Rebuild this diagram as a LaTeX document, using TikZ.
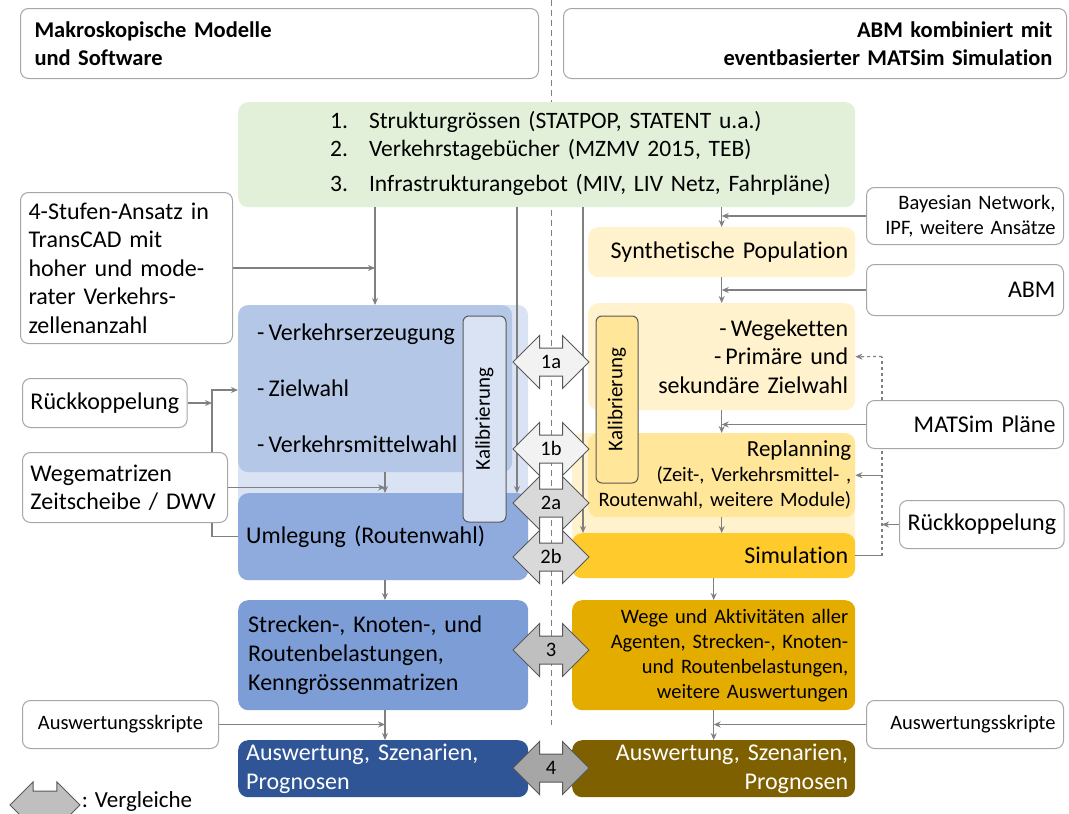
\documentclass[tikz,border=0pt]{standalone}
\usepackage{fontspec}
\setmainfont{Carlito}[Ligatures=NoCommon]
\usetikzlibrary{shapes.arrows,arrows.meta,positioning}

\definecolor{boxgray}{HTML}{A6A6A6}
\definecolor{linegray}{HTML}{808080}
\definecolor{arrowgray}{HTML}{595959}
\definecolor{greenbg}{HTML}{E2F0D9}
\definecolor{bluepale}{HTML}{DAE3F3}
\definecolor{bluelight}{HTML}{B4C7E7}
\definecolor{bluemid}{HTML}{8FAADC}
\definecolor{bluestr}{HTML}{7C9DD6}
\definecolor{bluedark}{HTML}{2F5597}
\definecolor{yelpale}{HTML}{FFF2CC}
\definecolor{yellight}{HTML}{FFE699}
\definecolor{yelsim}{HTML}{FFCA2C}
\definecolor{goldbox}{HTML}{E5AC00}
\definecolor{brownbox}{HTML}{7F6000}

\pgfdeclarelayer{back}
\pgfdeclarelayer{mid}
\pgfsetlayers{back,mid,main}

\tikzset{
  boxsize/.style 2 args={minimum width=#1pt, minimum height=#2pt},
  hdr/.style={draw=boxgray, line width=1pt, rounded corners=8pt, anchor=north west,
    inner xsep=14pt, font=\fontsize{22.5}{28}\selectfont\bfseries},
  sidebox/.style={draw=boxgray, line width=1pt, rounded corners=8pt, fill=white,
    anchor=north west, inner xsep=8pt, font=\fontsize{24}{28.5}\selectfont},
  colbox/.style={rounded corners=10pt, anchor=north west, font=\fontsize{24}{28.5}\selectfont},
  kal/.style={draw=arrowgray, line width=1pt, rounded corners=6pt, rotate=90,
    font=\fontsize{21}{21}\selectfont},
  cmp/.style={double arrow, draw=arrowgray, line width=1pt, double arrow head extend=12.5pt,
    minimum height=76pt, text height=13pt, text depth=1pt, inner xsep=2pt, inner ysep=6.5pt,
    font=\fontsize{20.5}{20}\selectfont},
  flow/.style={draw=linegray, line width=1.2pt, -{Stealth[length=7pt,width=6pt]}},
  link/.style={draw=linegray, line width=1.2pt}
}

\begin{document}
\begin{tikzpicture}[x=1pt, y=-1pt]
\useasboundingbox (0,0) rectangle (1069,814);

\begin{pgfonlayer}{back}
  \draw[linegray, line width=1pt, dash pattern=on 6pt off 4pt] (551,0) -- (551,725);
  \fill[bluepale, rounded corners=10pt] (238,305) rectangle (528,580);
  \fill[yelpale, rounded corners=10pt] (572,433) rectangle (855,578);

  \node[colbox, fill=greenbg, boxsize={617}{105}, text width=597pt, inner xsep=10pt, align=left,
    font=\fontsize{23.5}{28}\selectfont] (green) at (238,102)
    {\hspace*{82pt}\begin{tabular}{@{}l@{\hspace{21pt}}l@{}}
      1.&Strukturgrössen (STATPOP, STATENT u.a.)\\
      2.&Verkehrstagebücher (MZMV 2015, TEB)\\[7pt]
      3.&Infrastrukturangebot (MIV, LIV Netz, Fahrpläne)
    \end{tabular}};

  % linke Seite
  \node[colbox, fill=bluelight, boxsize={274}{167}, text width=236pt, inner xsep=19pt, align=left,
    font=\fontsize{24}{56}\selectfont] (vz) at (238,305)
    {-\,Verkehrserzeugung\\-\,Zielwahl\\-\,Verkehrsmittelwahl};
  \node[colbox, fill=bluemid, boxsize={290}{87}, text width=274pt, inner xsep=8pt, align=left] (uml) at (238,493)
    {Umlegung (Routenwahl)};
  \node[colbox, fill=bluestr, boxsize={290}{110}, text width=270pt, inner xsep=10pt, align=left,
    font=\fontsize{24}{29}\selectfont] (str) at (238,600)
    {Strecken-, Knoten-, und\\Routenbelastungen,\\Kenngrössenmatrizen};
  \node[colbox, fill=bluedark, text=white, boxsize={290}{57}, text width=274pt, inner xsep=8pt, align=left] (ausB) at (238,740)
    {Auswertung, Szenarien,\\Prognosen};

  % rechte Seite
  \node[colbox, fill=yelpale, boxsize={267}{50}, text width=253pt, inner xsep=7pt, align=right] (syn) at (588,227)
    {Synthetische Population};
  \node[colbox, fill=yelpale, boxsize={267}{107}, text width=253pt, inner xsep=7pt, align=right] (weg) at (588,303)
    {-\,Wegeketten\\-\,Primäre und\\sekundäre Zielwahl};
  \node[colbox, fill=yellight, boxsize={267}{84}, text width=259pt, inner xsep=4pt, align=right,
    font=\fontsize{20.5}{25}\selectfont] (rep) at (588,433)
    {{\fontsize{23}{25}\selectfont Replanning}\\(Zeit-, Verkehrsmittel- ,\\Routenwahl, weitere Module)};
  \node[colbox, fill=yelsim, boxsize={283}{45}, text width=269pt, inner xsep=7pt, align=right] (sim) at (572,533)
    {Simulation};
  \node[colbox, fill=goldbox, boxsize={283}{110}, text width=269pt, inner xsep=7pt, align=right,
    font=\fontsize{20.5}{25}\selectfont] (gold) at (572,600)
    {Wege und Aktivitäten aller\\Agenten, Strecken-, Knoten-\\und Routenbelastungen,\\weitere Auswertungen};
  \node[colbox, fill=brownbox, text=white, boxsize={283}{57}, text width=269pt, inner xsep=7pt, align=right] (brown) at (572,740)
    {Auswertung, Szenarien,\\Prognosen};
\end{pgfonlayer}

% Kopfzeilen
\node[hdr, boxsize={518}{70}, text width=490pt, align=left] (hdrL) at (20,8)
  {Makroskopische Modelle\\und Software};
\node[hdr, boxsize={503}{70}, text width=475pt, align=right] (hdrR) at (563,8)
  {ABM kombiniert mit\\eventbasierter MATSim Simulation};

% Eingaben links
\node[sidebox, boxsize={212}{151}, text width=196pt, align=left] (stufen) at (20,192)
  {4-Stufen-Ansatz in\\TransCAD mit\\hoher und mode-\\rater Verkehrs-\\zellenanzahl};
\node[sidebox, boxsize={164}{49}] (rueL) at (22,378) {Rückkoppelung};
\node[sidebox, boxsize={205}{70}, text width=189pt, align=left] (wm) at (22,452)
  {Wegematrizen\\Zeitscheibe / DWV};
\node[sidebox, boxsize={196}{48}, font=\fontsize{20.5}{24}\selectfont] (ausL) at (22,700) {Auswertungsskripte};

% Eingaben rechts
\node[sidebox, boxsize={197}{57}, text width=181pt, align=right, font=\fontsize{20.5}{25}\selectfont] (bay) at (866,187)
  {Bayesian Network,\\IPF, weitere Ansätze};
\node[sidebox, boxsize={197}{51}, text width=181pt, align=right] (abm) at (866,264) {ABM};
\node[sidebox, boxsize={197}{48}, text width=181pt, align=right] (mat) at (866,400) {MATSim Pläne};
\node[sidebox, boxsize={164}{48}] (rueR) at (899,500) {Rückkoppelung};
\node[sidebox, boxsize={197}{48}, text width=181pt, align=right, font=\fontsize{20.5}{24}\selectfont] (ausR) at (866,700)
  {Auswertungsskripte};

% Kalibrierung
\node[kal, fill=bluepale, boxsize={206}{43}] (kalL) at (484.5,419) {Kalibrierung};
\node[kal, fill=yellight, boxsize={167}{42}] (kalR) at (617,399.5) {Kalibrierung};

% Verbindungen
\coordinate (colA) at (375,0);
\coordinate (colB) at (385,0);
\coordinate (colC) at (517,0);
\coordinate (colD) at (583,0);
\coordinate (fbL) at (212,390);
\coordinate (fbR) at (882,356.5);

\begin{pgfonlayer}{mid}
  \draw[flow] (green.south -| colA) -- (vz.north -| colA);
  \draw[flow] (stufen.east) -- (stufen.east -| colA);
  \draw[flow] (green.south -| colC) -- (uml.north -| colC);
  \draw[flow] (green.south -| colD) -- (sim.north -| colD);
  \draw[flow] (vz.south -| colB) -- (uml.north -| colB);
  \draw[flow] (wm.east) -- (wm.east -| colB);
  \draw[flow] (uml.west) -| (fbL) -- (fbL -| vz.west);
  \draw[flow] (rueL.east) -- (rueL.east -| fbL);
  \draw[flow] (uml.south -| colB) -- (str.north -| colB);
  \draw[flow] (str.south -| colB) -- (ausB.north -| colB);
  \draw[flow] (ausL.east) -- (ausL.east -| colB);

  \draw[flow] (green.south -| syn.north) -- (syn.north);
  \draw[flow] (bay.west) -- (bay.west -| syn.north);
  \draw[flow] (syn.south) -- (weg.north);
  \draw[flow] (abm.west) -- (abm.west -| syn.south);
  \draw[flow] (weg.south) -- (rep.north);
  \draw[flow] (mat.west) -- (mat.west -| weg.south);
  \draw[flow] (rep.south) -- (rep.south |- sim.north);
  \draw[flow] (sim.south) -- (gold.north);
  \draw[flow] (gold.south) -- (brown.north);
  \draw[flow] (ausR.west) -- (ausR.west -| gold.south);
  \draw[link] (sim.east) -- (sim.east -| fbR);
  \draw[link, dashed] (sim.east -| fbR) -- (fbR);
  \draw[flow] (rep.east -| fbR) -- (rep.east);
  \draw[flow, dashed] (fbR) -- (weg.east);
  \draw[flow] (rueR.west) -- (rueR.west -| fbR);
\end{pgfonlayer}

% Vergleiche
\node[cmp, fill=gray!10] (c1a) at (551,362) {1a};
\node[cmp, fill=gray!10] (c1b) at (551,449) {1b};
\node[cmp, fill=gray!30] (c2a) at (551,503) {2a};
\node[cmp, fill=gray!30] (c2b) at (551,557) {2b};
\node[cmp, fill=gray!50] (c3) at (551,650) {3};
\node[cmp, fill=gray!70] (c4) at (551,768) {4};

\node[cmp, fill=gray!50, minimum height=70pt, double arrow head extend=9pt] (leg) at (45,805) {};
\node[anchor=west, inner sep=1pt, font=\fontsize{23}{23}\selectfont, yshift=4pt] (legtxt) at (leg.east) {: Vergleiche};
\end{tikzpicture}
\end{document}
